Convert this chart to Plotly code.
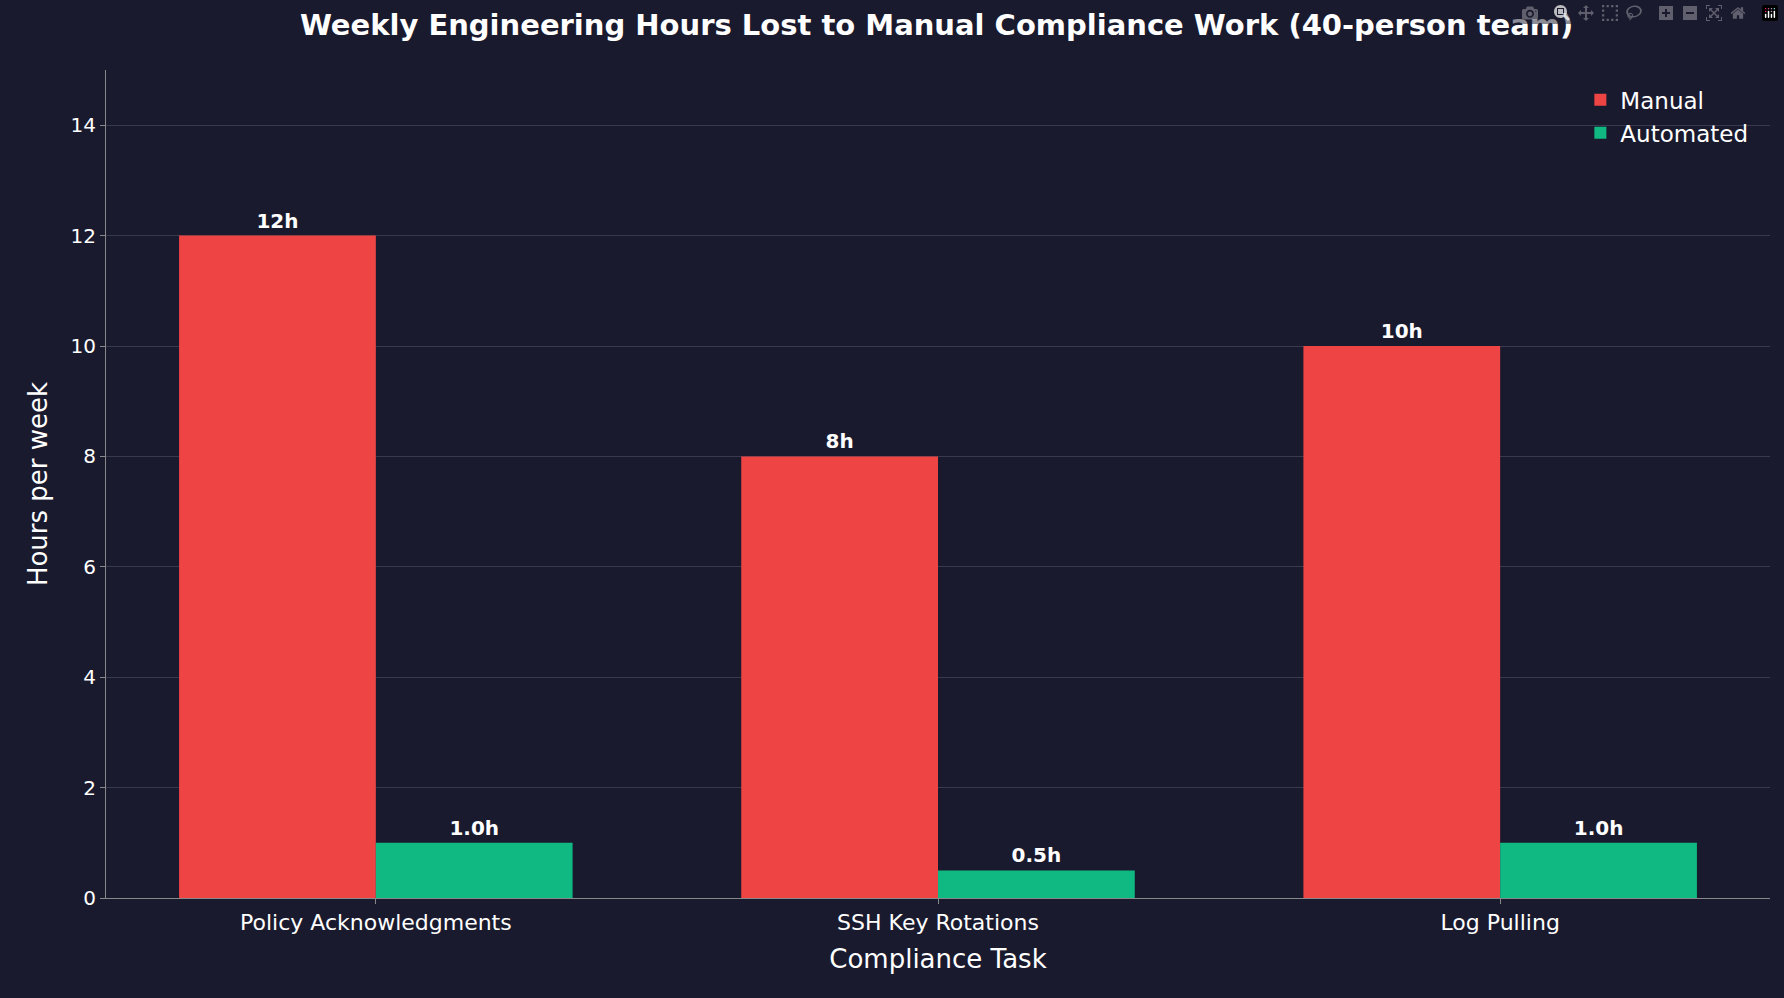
import plotly.graph_objects as go

tasks = ["Policy Acknowledgments", "SSH Key Rotations", "Log Pulling"]
manual = [12, 8, 10]
automated = [1.0, 0.5, 1.0]
manual_labels = ["<b>12h</b>", "<b>8h</b>", "<b>10h</b>"]
automated_labels = ["<b>1.0h</b>", "<b>0.5h</b>", "<b>1.0h</b>"]

bg = "#1a1a2e"
font = "DejaVu Sans"

fig = go.Figure()
fig.add_trace(go.Bar(x=tasks, y=manual, name="Manual", marker_color="#ef4444",
                     marker_line_width=0,
                     text=manual_labels, textposition="outside", cliponaxis=False,
                     textfont=dict(color="white", size=20, family=font)))
fig.add_trace(go.Bar(x=tasks, y=automated, name="Automated", marker_color="#10b981",
                     marker_line_width=0,
                     text=automated_labels, textposition="outside", cliponaxis=False,
                     textfont=dict(color="white", size=20, family=font)))

fig.update_layout(
    width=1784, height=998,
    paper_bgcolor=bg, plot_bgcolor=bg,
    font=dict(family=font, color="white", size=19),
    barmode="group", bargap=0.3, bargroupgap=0,
    margin=dict(l=106, r=14, t=70, b=100),
    title=dict(text="<b>Weekly Engineering Hours Lost to Manual Compliance Work (40-person team)</b>",
               x=0.525, xanchor="center", y=0.985, yanchor="top", font=dict(size=29)),
    legend=dict(x=0.99, y=0.99, xanchor="right", yanchor="top", bgcolor="rgba(0,0,0,0)",
                font=dict(size=23)),
    xaxis=dict(title=dict(text="Compliance Task", font=dict(size=26)), range=[-0.48, 2.48],
               showline=True, linecolor="#888888", ticks="outside", tickcolor="#888888",
               tickfont=dict(size=22)),
    yaxis=dict(title=dict(text="Hours per week", font=dict(size=26)), range=[0, 15],
               dtick=2, showgrid=True, gridcolor="#3a3a4e", zeroline=False,
               showline=True, linecolor="#888888", ticks="outside", tickcolor="#888888",
               tickfont=dict(size=20)),
)
fig.write_html("out.html",
               post_script="document.body.style.margin='0';document.body.style.background='#1a1a2e';")
